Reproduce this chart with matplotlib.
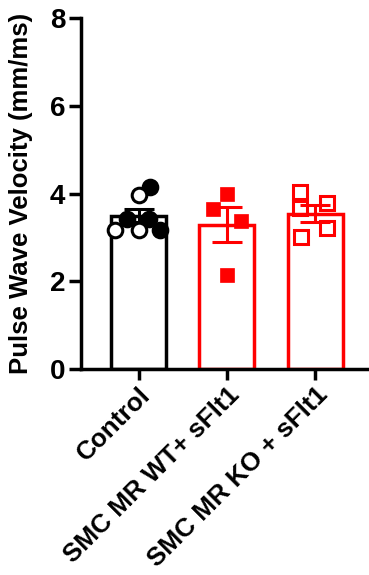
import matplotlib
matplotlib.use("Agg")
import matplotlib.pyplot as plt
import numpy as np

plt.rcParams['font.family'] = ['Liberation Sans', 'DejaVu Sans']
plt.rcParams['font.weight'] = 'bold'

categories = ["Control", "SMC MR WT+ sFlt1", "SMC MR KO + sFlt1"]
colors = ["#000000", "#FF0000", "#FF0000"]

# individual points per group: values, x-offsets, filled flags
control_vals = [4.15, 3.97, 3.42, 3.42, 3.17, 3.17, 3.17]
control_offs = [0.13, 0.0, -0.13, 0.12, -0.27, 0.0, 0.245]
control_fill = [True, False, True, True, False, False, True]

wt_vals = [4.00, 3.64, 3.38, 2.14]
wt_offs = [0.0, -0.155, 0.155, 0.0]

ko_vals = [4.03, 3.67, 3.78, 3.22, 3.01]
ko_offs = [-0.17, -0.17, 0.14, 0.14, -0.16]

yticks = [0, 2, 4, 6, 8]
ylabel = "Pulse Wave Velocity (mm/ms)"

groups = [control_vals, wt_vals, ko_vals]
means = [np.mean(g) for g in groups]
sems = [np.std(g, ddof=1) / np.sqrt(len(g)) for g in groups]

fig = plt.figure(figsize=(3.69, 5.75), dpi=100)
ax = fig.add_axes([0.2187, 0.358, 0.7813, 0.6107])

x = np.arange(len(categories))
lw = 2.5
ax.bar(x, means, width=0.623, color="white", edgecolor=colors, linewidth=lw, zorder=2)
for i in range(len(categories)):
    ax.errorbar(x[i], means[i], yerr=sems[i], color=colors[i], capsize=11,
                elinewidth=2.2, capthick=2.2, zorder=3, fmt="none")

ms = 10.5
for v, o, f in zip(control_vals, control_offs, control_fill):
    ax.plot(x[0] + o, v, marker="o", markersize=ms,
            markerfacecolor="black" if f else "white",
            markeredgecolor="black", markeredgewidth=2.2, zorder=4, linestyle="none")
for v, o in zip(wt_vals, wt_offs):
    ax.plot(x[1] + o, v, marker="s", markersize=ms - 0.5, markerfacecolor="#FF0000",
            markeredgecolor="#FF0000", markeredgewidth=0.5, zorder=4, linestyle="none")
for v, o in zip(ko_vals, ko_offs):
    ax.plot(x[2] + o, v, marker="s", markersize=ms - 1, markerfacecolor="none",
            markeredgecolor="#FF0000", markeredgewidth=2.2, zorder=4, linestyle="none")

ax.set_xlim(-0.655, 2.61)
ax.set_ylim(0, 8)
ax.set_yticks(yticks)
ax.set_yticklabels([str(t) for t in yticks], fontsize=20, fontweight="bold")
ax.set_xticks(x)
ax.set_xticklabels(categories, rotation=45, ha="right", rotation_mode="anchor",
                   fontsize=18.8, fontweight="bold")
ax.set_ylabel(ylabel, fontsize=18.5, fontweight="bold")
ax.yaxis.set_label_coords(-0.165, 0.5)

for s in ["top", "right"]:
    ax.spines[s].set_visible(False)
for s in ["left", "bottom"]:
    ax.spines[s].set_linewidth(lw)
ax.tick_params(axis="y", width=lw, length=9, pad=2)
ax.tick_params(axis="x", width=lw, length=8, pad=2)

fig.savefig("out.png", dpi=100)
